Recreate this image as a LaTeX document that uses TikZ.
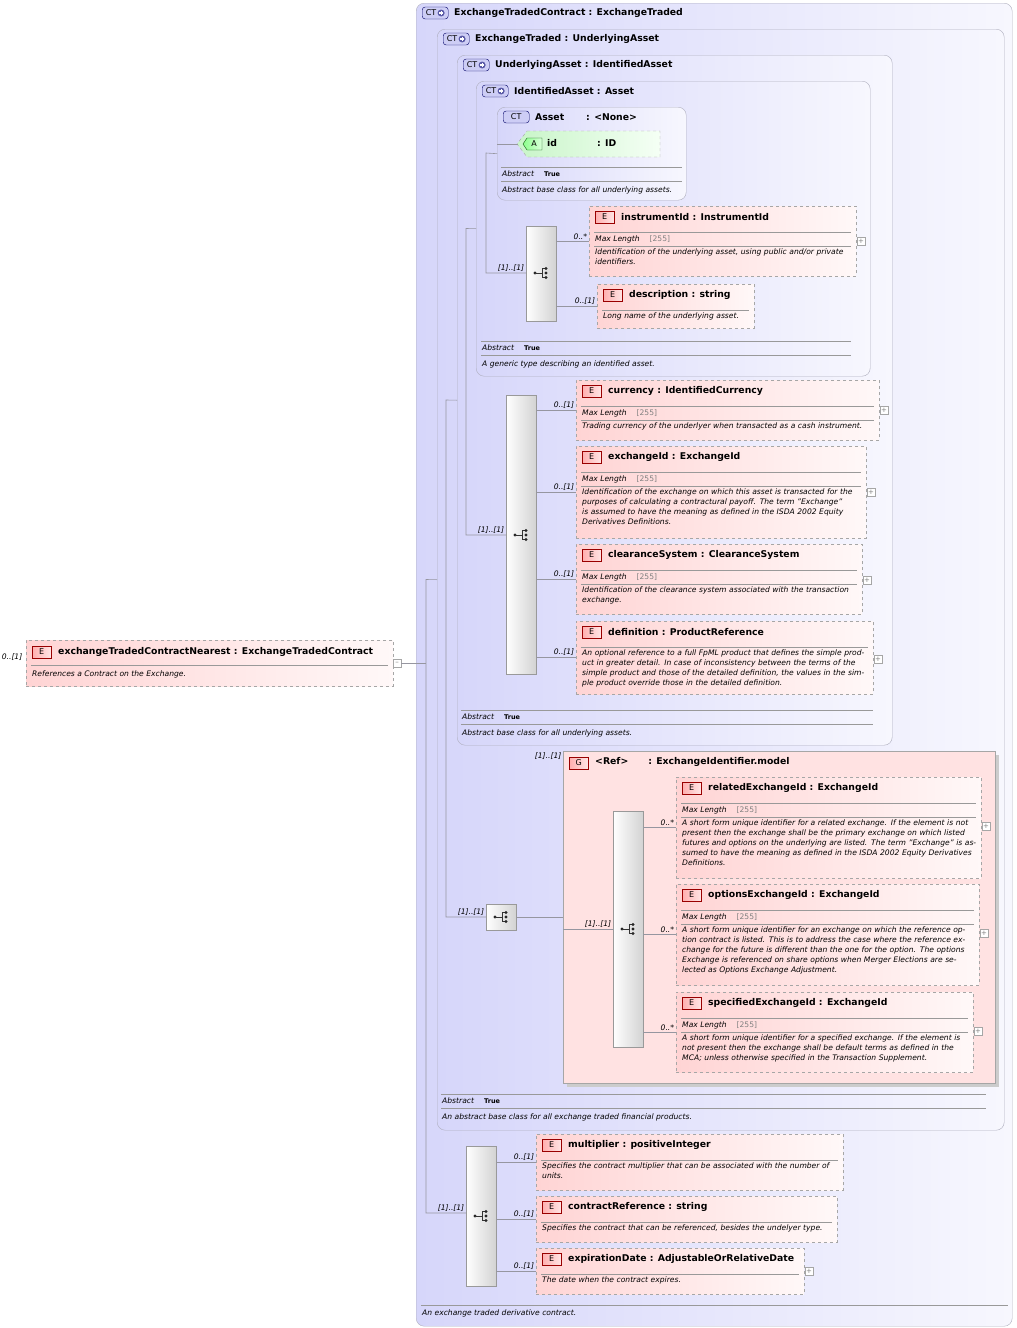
\documentclass[tikz,border=0pt]{standalone}
\usepackage{fontspec}
\setmainfont{DejaVu Sans}
\begin{document}
\definecolor{ctL}{RGB}{214,214,250}
\definecolor{ctR}{RGB}{247,247,254}
\definecolor{ctB}{RGB}{175,175,190}
\definecolor{eL}{RGB}{255,212,212}
\definecolor{eR}{RGB}{255,248,248}
\definecolor{gF}{RGB}{255,226,226}
\definecolor{lnC}{RGB}{150,150,160}
\definecolor{bdE}{RGB}{255,175,175}
\definecolor{bdCT}{RGB}{205,205,245}
\definecolor{aL}{RGB}{200,245,200}
\definecolor{aR}{RGB}{245,255,245}
\newcommand\tf{\fontsize{9.3}{11}\selectfont\bfseries}
\newcommand\df{\fontsize{7.6}{10}\selectfont\itshape}
\begin{tikzpicture}[x=1pt,y=-1pt,
 ctbox/.style={draw=ctB,rounded corners=8pt,left color=ctL,right color=ctR,anchor=north west,inner sep=0pt},
 ebox/.style={draw=gray!70,dashed,left color=eL,right color=eR,anchor=north west,inner sep=0pt},
 seqb/.style={draw=gray!80,left color=white,right color=gray!35,anchor=north west,inner sep=0pt,minimum width=30pt},
 conn/.style={draw=lnC,line width=0.6pt},
 sepl/.style={draw=gray!80,line width=0.5pt},
 mult/.style={font=\df,inner sep=1.5pt},
 ttl/.style={font=\tf,anchor=west,inner sep=0pt},
 ebadge/.style={draw=red!60!black,left color=bdE,right color=red!10,minimum width=19pt,minimum height=12pt,inner sep=0pt,font=\fontsize{8}{9}\selectfont,anchor=west},
 ctbadge/.style={draw=blue!40!black,fill=bdCT,rounded corners=3pt,minimum width=26pt,minimum height=12pt,inner sep=0pt,font=\fontsize{8}{9}\selectfont,anchor=west},
 dsc/.style={font=\df,anchor=north west,inner sep=0pt,align=left},
 pbox/.style={draw=gray!70,fill=white,minimum size=8pt,inner sep=0pt,font=\fontsize{7}{7}\selectfont,text=gray}
]
\useasboundingbox (0,0) rectangle (1017,1328);
% CT boxes
\newcommand\ctb[7]{% name x1 y1 x2 y2 title plus
 \node[ctbox,minimum width={(#4-#2)*1pt},minimum height={(#5-#3)*1pt}] (#1) at (#2,#3) {};
 \node[ctbadge] (#1b) at (#2+6,#3+10) {CT\ifnum#7=1\,\tikz[baseline=-2.5pt]{\fill[blue!30!gray] (0,0) circle (3.5pt);\draw[white,line width=1.1pt] (-2.2pt,0)--(2.2pt,0) (0,-2.2pt)--(0,2.2pt);}\fi};
 \node[ttl] (#1t) at (#2+38,#3+10) {#6};}
\newcommand\absb[5]{% x1 x2 y desc abstractflag
 \ifnum#5=1
 \draw[sepl] (#1,#3)--(#2,#3);
 \node[font=\df,anchor=west,inner sep=0pt] at (#1+1,#3+7) {Abstract\hspace{10pt}\upshape\bfseries\fontsize{6.5}{7}\selectfont True};
 \draw[sepl] (#1,#3+14)--(#2,#3+14);
 \node[font=\df,anchor=west,inner sep=0pt] at (#1+1,#3+23) {#4};
 \else
 \draw[sepl] (#1,#3)--(#2,#3);
 \node[font=\df,anchor=west,inner sep=0pt] at (#1+1,#3+8) {#4};
 \fi}
\newcommand\elem[9]{% name x1 y1 x2 y2 title plusY ml desc
 \node[ebox,minimum width={(#4-#2)*1pt},minimum height={(#5-#3)*1pt}] (#1) at (#2,#3) {};
 \node[ebadge] (#1b) at (#2+6,#3+11) {E};
 \node[ttl] (#1t) at (#2+32,#3+11) {#6};
 \draw[sepl] (#2+5,#3+26)--(#4-5,#3+26);
 \ifnum#8=1
 \node[font=\df,anchor=west,inner sep=0pt] at (#2+6,#3+33) {Max Length\hspace{10pt}{\upshape\color{gray}[255]}};
 \draw[sepl] (#2+5,#3+40)--(#4-5,#3+40);
 \node[dsc,text width={(#4-#2-10)*1pt}] at (#2+6,#3+43) {#9};
 \else
 \node[dsc,text width={(#4-#2-10)*1pt}] at (#2+6,#3+29) {#9};
 \fi
 \ifnum#7>0 \node[pbox] at (#4+5,#7) {+};\fi}
\newcommand\seqicon[2]{%
 \fill[gray!30!black] (#1-6,#2) circle (1.6pt);
 \draw[black!80,line width=0.7pt] (#1-6,#2)--(#1+1,#2) (#1+1,#2-4.5)--(#1+1,#2+4.5) (#1+1,#2-4.5)--(#1+5,#2-4.5) (#1+1,#2+4.5)--(#1+5,#2+4.5);
 \fill[gray!30!black] (#1+5,#2-4.5) circle (1.6pt) (#1+5,#2) circle (1.6pt) (#1+5,#2+4.5) circle (1.6pt);}

\ctb{ctc}{416}{3}{1012}{1326}{ExchangeTradedContract : ExchangeTraded}{1}
\ctb{ctet}{437}{29}{1004}{1130}{ExchangeTraded : UnderlyingAsset}{1}
\ctb{ctua}{457}{55}{892}{745}{UnderlyingAsset : IdentifiedAsset}{1}
\ctb{ctia}{476}{81}{870}{376}{IdentifiedAsset : Asset}{1}
\ctb{cta}{497}{107}{686}{200}{Asset\hspace{22pt}: <None>}{0}
\absb{421}{1008}{1305}{An exchange traded derivative contract.}{0}
\absb{441}{986}{1094}{An abstract base class for all exchange traded financial products.}{1}
\absb{461}{873}{710}{Abstract base class for all underlying assets.}{1}
\absb{481}{851}{341}{A generic type describing an identified asset.}{1}
\absb{501}{682}{167}{Abstract base class for all underlying assets.}{1}

% attribute id
\path[draw=gray!70,dashed,left color=aL,right color=aR] (527,131)--(660,131)--(660,157)--(527,157)--(517,144)--cycle;
\node[inner sep=0pt,minimum width=1pt] (id) at (519,144) {};
\path[draw=green!30!black,left color=green!45,right color=green!15] (527,138)--(542,138)--(542,150)--(527,150)--(523,144)--cycle;
\node[font=\fontsize{8}{9}\selectfont,inner sep=0pt] (idb) at (534,144) {A};
\node[ttl] (idt) at (547,143) {id\hspace{40pt}: ID};
\draw[conn] (cta.west |- 0,144) -- (id.west);

% sequences
\node[seqb,minimum height=95pt] (sq1) at (526,226) {};
\seqicon{541}{273}
\node[seqb,minimum height=279pt] (sq2) at (506,395) {};
\seqicon{521}{535}
\node[seqb,minimum height=26pt] (sq3) at (486,904) {};
\seqicon{501}{917}
\node[seqb,minimum height=140pt] (sq4) at (466,1146) {};
\seqicon{481}{1216}

% elements
\elem{instr}{589}{206}{856}{276}{instrumentId : InstrumentId}{241}{1}{Identification of the underlying asset, using public and/or private identifiers.}
\elem{descr}{597}{284}{754}{328}{description : string}{0}{0}{Long name of the underlying asset.}
\elem{curr}{576}{380}{879}{440}{currency : IdentifiedCurrency}{410}{1}{Trading currency of the underlyer when transacted as a cash instrument.}
\elem{exch}{576}{446}{866}{538}{exchangeId : ExchangeId}{492}{1}{Identification of the exchange on which this asset is transacted for the purposes of calculating a contractural payoff. The term "Exchange" is assumed to have the meaning as defined in the ISDA 2002 Equity Derivatives Definitions.}
\elem{clear}{576}{544}{862}{614}{clearanceSystem : ClearanceSystem}{580}{1}{Identification of the clearance system associated with the transaction exchange.}
\elem{defn}{576}{621}{873}{694}{definition : ProductReference}{659}{0}{An optional reference to a full FpML product that defines the simple product in greater detail. In case of inconsistency between the terms of the simple product and those of the detailed definition, the values in the simple product override those in the detailed definition.}

% group
\fill[gray!40] (567,755) rectangle (999,1087);
\node[draw=gray!70,fill=gF,anchor=north west,inner sep=0pt,minimum width=432pt,minimum height=332pt] (grp) at (563,751) {};
\node[ebadge] (grpb) at (569,763) {G};
\node[ttl] (grpt) at (595,762) {<Ref>\hspace{20pt}: ExchangeIdentifier.model};
\node[seqb,minimum height=236pt] (sqg) at (613,811) {};
\seqicon{628}{929}
\elem{relex}{676}{777}{981}{878}{relatedExchangeId : ExchangeId}{826}{1}{A short form unique identifier for a related exchange. If the element is not present then the exchange shall be the primary exchange on which listed futures and options on the underlying are listed. The term "Exchange" is assumed to have the meaning as defined in the ISDA 2002 Equity Derivatives Definitions.}
\elem{optex}{676}{884}{979}{985}{optionsExchangeId : ExchangeId}{933}{1}{A short form unique identifier for an exchange on which the reference option contract is listed. This is to address the case where the reference exchange for the future is different than the one for the option. The options Exchange is referenced on share options when Merger Elections are selected as Options Exchange Adjustment.}
\elem{specex}{676}{992}{973}{1072}{specifiedExchangeId : ExchangeId}{1031}{1}{A short form unique identifier for a specified exchange. If the element is not present then the exchange shall be default terms as defined in the MCA; unless otherwise specified in the Transaction Supplement.}

\elem{mult}{536}{1134}{843}{1190}{multiplier : positiveInteger}{0}{0}{Specifies the contract multiplier that can be associated with the number of units.}
\elem{cref}{536}{1196}{837}{1242}{contractReference : string}{0}{0}{Specifies the contract that can be referenced, besides the undelyer type.}
\elem{expd}{536}{1248}{804}{1294}{expirationDate : AdjustableOrRelativeDate}{1271}{0}{The date when the contract expires.}

% top-level element
\node[ebox,minimum width=367pt,minimum height=46pt] (top) at (26,640) {};
\node[ebadge] (topb) at (32,652) {E};
\node[ttl] (topt) at (58,652) {exchangeTradedContractNearest : ExchangeTradedContract};
\draw[sepl] (31,665)--(388,665);
\node[font=\df,anchor=west,inner sep=0pt] at (32,674) {References a Contract on the Exchange.};
\node[mult,anchor=east] at (24,657) {0..[1]};
\node[pbox] (minus) at (397,663) {--};

% connectors
\draw[conn] (minus.east) -- (426,663);
\draw[conn] (cta.west) -- (486,153) |- (sq1.west |- 0,273) node[mult,pos=1,anchor=south east] {[1]..[1]};
\draw[conn] (ctia.west) -- (466,228.5) |- (sq2.west |- 0,535) node[mult,pos=1,anchor=south east] {[1]..[1]};
\draw[conn] (ctua.west) -- (446,400) |- (sq3.west |- 0,917) node[mult,pos=1,anchor=south east] {[1]..[1]};
\draw[conn] (ctet.west) -- (426,579.5) |- (sq4.west |- 0,1213) node[mult,pos=1,anchor=south east] {[1]..[1]};
\draw[conn] (sq3.east) -- (grp.west |- sq3.east);
\node[mult,anchor=north east] at (grp.north west) {[1]..[1]};
\draw[conn] (grp.west |- 0,929) -- (sqg.west |- 0,929) node[mult,pos=1,anchor=south east] {[1]..[1]};
\foreach \s/\e/\m in {sq1/instr/{0..*},sq1/descr/{0..[1]},sq2/curr/{0..[1]},sq2/exch/{0..[1]},sq2/clear/{0..[1]},sq2/defn/{0..[1]},sqg/relex/{0..*},sqg/optex/{0..*},sqg/specex/{0..*},sq4/mult/{0..[1]},sq4/cref/{0..[1]},sq4/expd/{0..[1]}}
 \draw[conn] (\s.east |- \e.west) -- (\e.west) node[mult,pos=1,anchor=south east] {\m};
\end{tikzpicture}
\end{document}
